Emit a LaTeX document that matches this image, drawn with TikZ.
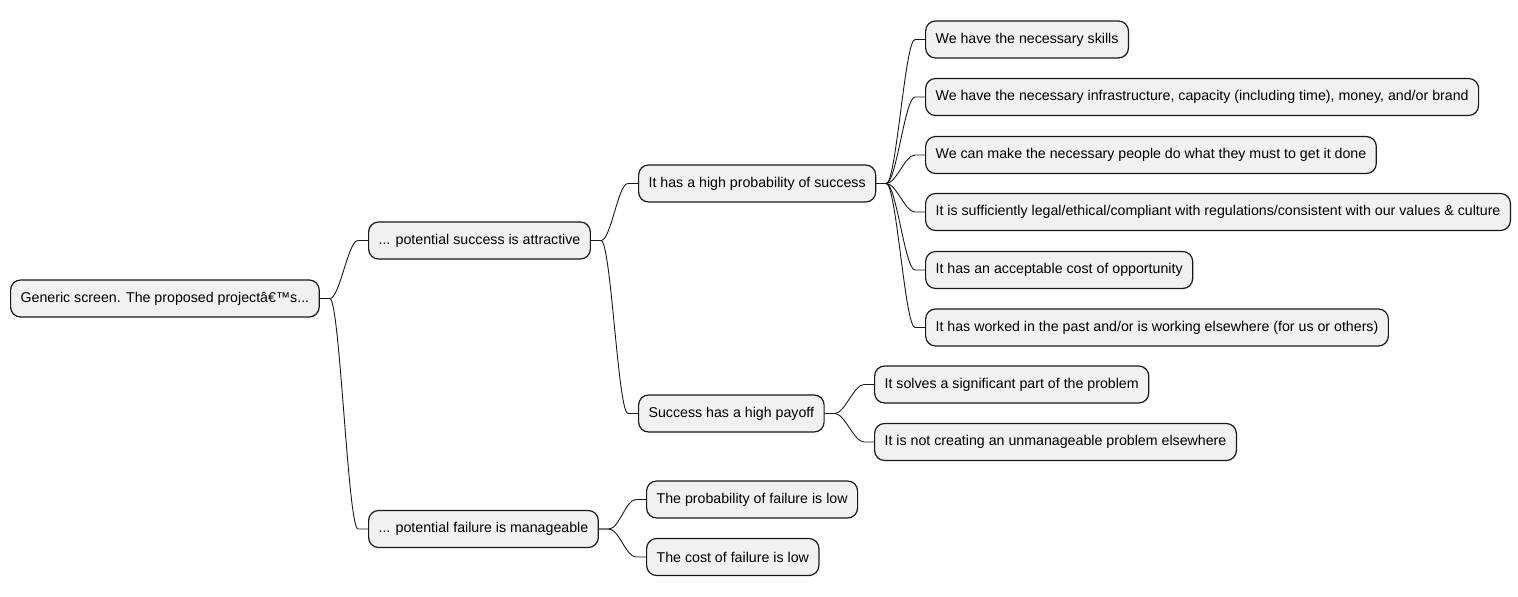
\documentclass[tikz,border=0pt]{standalone}
\usepackage{fontspec}
\setmainfont{Liberation Sans}
\usetikzlibrary{calc}
\definecolor{boxfill}{HTML}{F1F1F1}
\definecolor{boxline}{HTML}{181818}
\begin{document}
\begin{tikzpicture}[x=1pt,y=-1pt,
 idea/.style={draw=boxline,fill=boxfill,line width=1.2pt,rounded corners=10pt,
  anchor=west,minimum height=37pt,inner xsep=10pt,inner ysep=0pt,
  font=\fontsize{14.2}{16}\selectfont},
 link/.style={draw=boxline,line width=.9pt}]
 \useasboundingbox (0,0) rectangle (1518,597);
 \path
 (10,298.5) node[idea] (root) {Generic screen. The proposed projectâ€™s...} % <<< gốc
 (368,240.5) node[idea] (succ) {... potential success is attractive} % <<< nhánh 1
 (368,529) node[idea] (fail) {... potential failure is manageable}
 (638,183.5) node[idea] (prob) {It has a high probability of success} % <<< nhánh 2
 (638,413.5) node[idea] (pay) {Success has a high payoff}
 (646,499.5) node[idea] (lowp) {The probability of failure is low}
 (646,557) node[idea] (lowc) {The cost of failure is low}
 (925,39.5) node[idea] (skill) {We have the necessary skills} % <<< nhánh 3
 (925,97) node[idea] (infra) {We have the necessary infrastructure, capacity (including time), money, and/or brand}
 (925,155) node[idea] (people) {We can make the necessary people do what they must to get it done}
 (925,212) node[idea] (legal) {It is sufficiently legal/ethical/compliant with regulations/consistent with our values \& culture}
 (925,270) node[idea] (oppo) {It has an acceptable cost of opportunity}
 (925,327.5) node[idea] (past) {It has worked in the past and/or is working elsewhere (for us or others)}
 (874,384.5) node[idea] (part) {It solves a significant part of the problem}
 (874,442) node[idea] (else) {It is not creating an unmanageable problem elsewhere};
 \foreach \p/\c in {root/succ,root/fail,succ/prob,succ/pay,fail/lowp,fail/lowc,
  prob/skill,prob/infra,prob/people,prob/legal,prob/oppo,prob/past,pay/part,pay/else}
  \draw[link] (\p.east) -- ++(10,0) .. controls +(10,0) and ($(\c.west)+(-20,0)$)
   .. ($(\c.west)+(-10,0)$) -- (\c.west);
\end{tikzpicture}
\end{document}
